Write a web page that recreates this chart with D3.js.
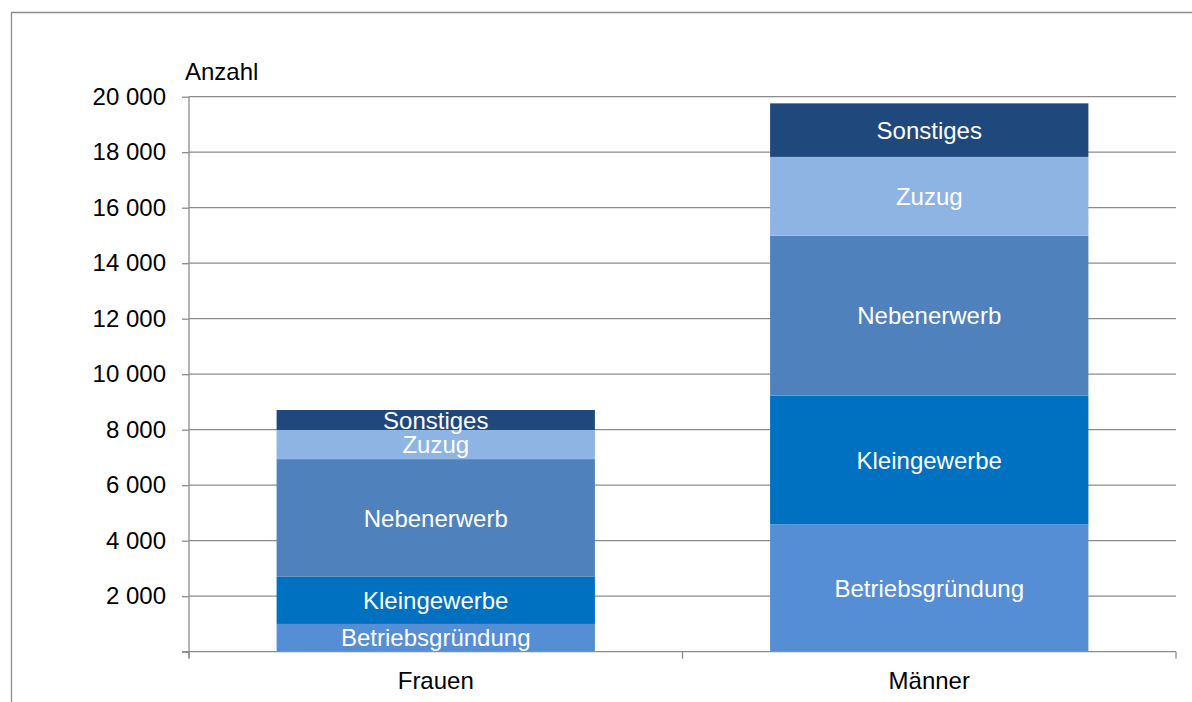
<!DOCTYPE html>
<html><head><meta charset="utf-8">
<script src="https://cdn.jsdelivr.net/npm/d3@7"></script>
<style>body{margin:0;background:#fff;}svg{display:block;font-family:"Liberation Sans",Arial,sans-serif;}</style>
</head><body>
<svg id="c" width="1192" height="702"></svg>
<script>
const categories = ["Frauen", "Männer"];
const seriesNames = ["Betriebsgründung", "Kleingewerbe", "Nebenerwerb", "Zuzug", "Sonstiges"];
const betriebsgruendung = [1000, 4590];
const kleingewerbe = [1700, 4640];
const nebenerwerb = [4240, 5760];
const zuzug = [1050, 2840];
const sonstiges = [720, 1930];
const yTicks = [0, 2000, 4000, 6000, 8000, 10000, 12000, 14000, 16000, 18000, 20000];
const colors = ["#558ED5", "#0070C0", "#4F81BD", "#8EB4E3", "#1F497D"];

const seriesValues = [betriebsgruendung, kleingewerbe, nebenerwerb, zuzug, sonstiges];
const rows = categories.map((c, i) => {
  const r = {cat: c};
  seriesNames.forEach((s, j) => r[s] = seriesValues[j][i]);
  return r;
});
const stacked = d3.stack().keys(seriesNames)(rows);

const svg = d3.select("#c");
const mLeft = 189, mRight = 1176, mTop = 96.7, mBottom = 651.7;
const grey = "#8c8c8c";

// outer frame
svg.append("path").attr("d", "M11.5,702 L11.5,12.5 L1192,12.5")
  .attr("fill", "none").attr("stroke", grey).attr("stroke-width", 1.3);

const x = d3.scaleBand().domain(categories).range([mLeft, mRight]).padding(0);
const y = d3.scaleLinear().domain([0, 20000]).range([mBottom, mTop]);

// gridlines
svg.append("g").selectAll("line").data(yTicks.filter(t => t > 0)).join("line")
  .attr("x1", mLeft).attr("x2", mRight)
  .attr("y1", d => y(d)).attr("y2", d => y(d))
  .attr("stroke", grey).attr("stroke-width", 1.3);

// y axis
const yAxis = svg.append("g").attr("transform", `translate(${mLeft},0)`)
  .call(d3.axisLeft(y).tickValues(yTicks).tickSize(7).tickPadding(16)
    .tickFormat(d => d === 0 ? "" : d3.format(",")(d).replace(/,/g, " ")));
yAxis.select(".domain").attr("stroke", grey).attr("stroke-width", 1.3)
  .attr("d", `M0,${mTop}V${mBottom + 6}`);
yAxis.selectAll(".tick line").attr("stroke", grey).attr("stroke-width", 1.3);
yAxis.selectAll(".tick text").attr("fill", "#000").style("font-size", "24px")
  .style("font-family", "'Liberation Sans', Arial, sans-serif");

// bars
const barW = x.bandwidth() * 0.645;
const layers = svg.append("g").selectAll("g").data(stacked).join("g")
  .attr("fill", (d, i) => colors[i]);
layers.selectAll("rect").data(d => d.map(p => ({p, key: d.key}))).join("rect")
  .attr("x", d => x(d.p.data.cat) + (x.bandwidth() - barW) / 2)
  .attr("width", barW)
  .attr("y", d => y(d.p[1]))
  .attr("height", d => y(d.p[0]) - y(d.p[1]));

// segment labels
layers.selectAll("text").data(d => d.map(p => ({p, key: d.key}))).join("text")
  .attr("x", d => x(d.p.data.cat) + x.bandwidth() / 2)
  .attr("y", d => (y(d.p[0]) + y(d.p[1])) / 2)
  .attr("dy", "0.36em")
  .attr("text-anchor", "middle")
  .attr("fill", "#fff")
  .style("font-size", "24px")
  .text(d => d.key);

// x axis
const xAxis = svg.append("g").attr("transform", `translate(0,${mBottom})`);
xAxis.append("line").attr("x1", mLeft - 7).attr("x2", mRight)
  .attr("stroke", grey).attr("stroke-width", 1.3);
const bounds = [mLeft, ...categories.map(c => x(c) + x.bandwidth())];
xAxis.selectAll("line.tk").data(bounds).join("line").attr("class", "tk")
  .attr("x1", d => d).attr("x2", d => d).attr("y1", 0).attr("y2", 7)
  .attr("stroke", grey).attr("stroke-width", 1.3);
xAxis.selectAll("text").data(categories).join("text")
  .attr("x", d => x(d) + x.bandwidth() / 2)
  .attr("y", 37)
  .attr("text-anchor", "middle")
  .attr("fill", "#000")
  .style("font-size", "24px")
  .text(d => d);

// axis title
svg.append("text").attr("x", 185).attr("y", 80).attr("fill", "#000")
  .style("font-size", "24px").text("Anzahl");
</script>
</body></html>
